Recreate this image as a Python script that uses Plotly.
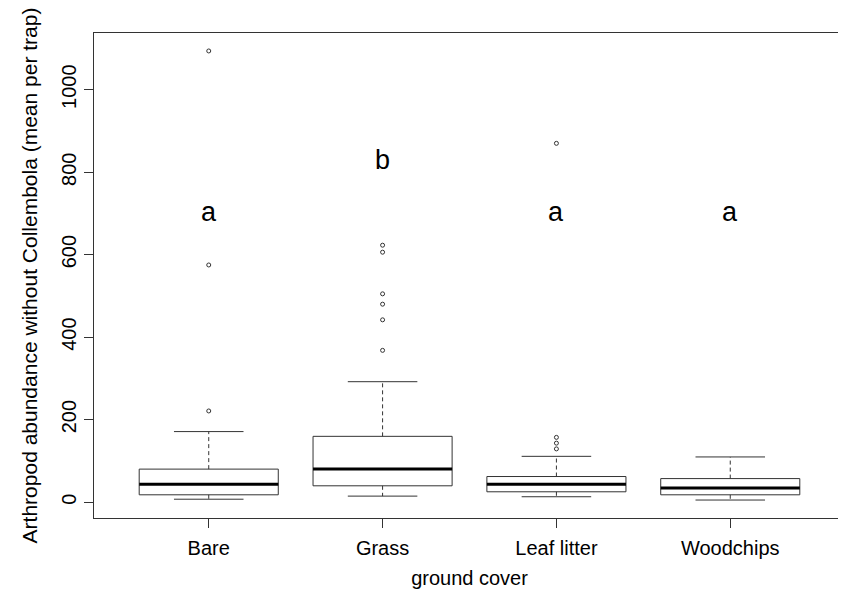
import plotly.graph_objects as go

categories = ["Bare", "Grass", "Leaf litter", "Woodchips"]
lower_whisker = [7, 14.5, 13, 5]
q1 = [17.7, 39.5, 25, 17.7]
median = [43.5, 80, 43, 34]
q3 = [80, 159.5, 62, 57]
upper_whisker = [171, 292, 111, 109.5]
outliers = [
    [221, 575, 1094],
    [368, 442, 480, 505, 606, 623],
    [129, 143, 157, 870],
    [],
]
letters = ["a", "b", "a", "a"]
letter_y = [703, 829, 703, 703]

FONT = "Liberation Sans, Arial, Helvetica, sans-serif"
bw = 0.4   # half box width
sw = 0.2   # half staple width

pos = list(range(1, len(categories) + 1))

bx, by, mx, my, wx, wy, sx, sy, ox, oy = [], [], [], [], [], [], [], [], [], []
for i, p in enumerate(pos):
    bx += [p - bw, p + bw, p + bw, p - bw, p - bw, None]
    by += [q1[i], q1[i], q3[i], q3[i], q1[i], None]
    mx += [p - bw, p + bw, None]
    my += [median[i], median[i], None]
    wx += [p, p, None, p, p, None]
    wy += [q3[i], upper_whisker[i], None, q1[i], lower_whisker[i], None]
    sx += [p - sw, p + sw, None, p - sw, p + sw, None]
    sy += [upper_whisker[i], upper_whisker[i], None, lower_whisker[i], lower_whisker[i], None]
    for v in outliers[i]:
        ox.append(p)
        oy.append(v)

fig = go.Figure()
fig.add_trace(go.Scatter(x=wx, y=wy, mode="lines", line=dict(color="#333333", width=1, dash="4px,3px"), hoverinfo="skip"))
fig.add_trace(go.Scatter(x=sx, y=sy, mode="lines", line=dict(color="#333333", width=1), hoverinfo="skip"))
fig.add_trace(go.Scatter(x=bx, y=by, mode="lines", line=dict(color="#333333", width=1), hoverinfo="skip"))
fig.add_trace(go.Scatter(x=mx, y=my, mode="lines", line=dict(color="black", width=3), hoverinfo="skip"))
fig.add_trace(go.Scatter(x=ox, y=oy, mode="markers",
                         marker=dict(symbol="circle-open", size=4, color="#333333", line=dict(width=1)),
                         hoverinfo="skip"))

for i, p in enumerate(pos):
    fig.add_annotation(x=p, y=letter_y[i], text=letters[i], showarrow=False,
                       font=dict(family=FONT, size=27, color="black"))

all_vals = lower_whisker + upper_whisker + [v for o in outliers for v in o]
lo, hi = min(all_vals), max(all_vals)
pad = 0.04 * (hi - lo)
n = len(categories)
xpad = 0.04 * n

fig.update_layout(
    width=846, height=599,
    margin=dict(l=86, r=9, t=25, b=89, autoexpand=False),
    paper_bgcolor="white", plot_bgcolor="white",
    showlegend=False,
    font=dict(family=FONT, size=20, color="black"),
    xaxis=dict(
        range=[0.5 - xpad, n + 0.5 + xpad],
        tickmode="array", tickvals=pos, ticktext=categories,
        ticks="outside", ticklen=9, tickcolor="#333333",
        ticklabelstandoff=3,
        showline=True, linecolor="#333333", linewidth=1, mirror=True,
        showgrid=False, zeroline=False,
        title=dict(text="ground cover", standoff=12, font=dict(size=20)),
        tickfont=dict(size=20),
    ),
    yaxis=dict(
        range=[lo - pad, hi + pad],
        tickmode="array", tickvals=[0, 200, 400, 600, 800, 1000],
        ticks="outside", ticklen=9, tickcolor="#333333",
        tickangle=-90,
        showline=True, linecolor="#333333", linewidth=1, mirror=True,
        showgrid=False, zeroline=False,
        title=dict(text="Arthropod abundance without Collembola (mean per trap)", standoff=14, font=dict(size=21)),
        tickfont=dict(size=20),
    ),
)

fig.write_html("out.html")
